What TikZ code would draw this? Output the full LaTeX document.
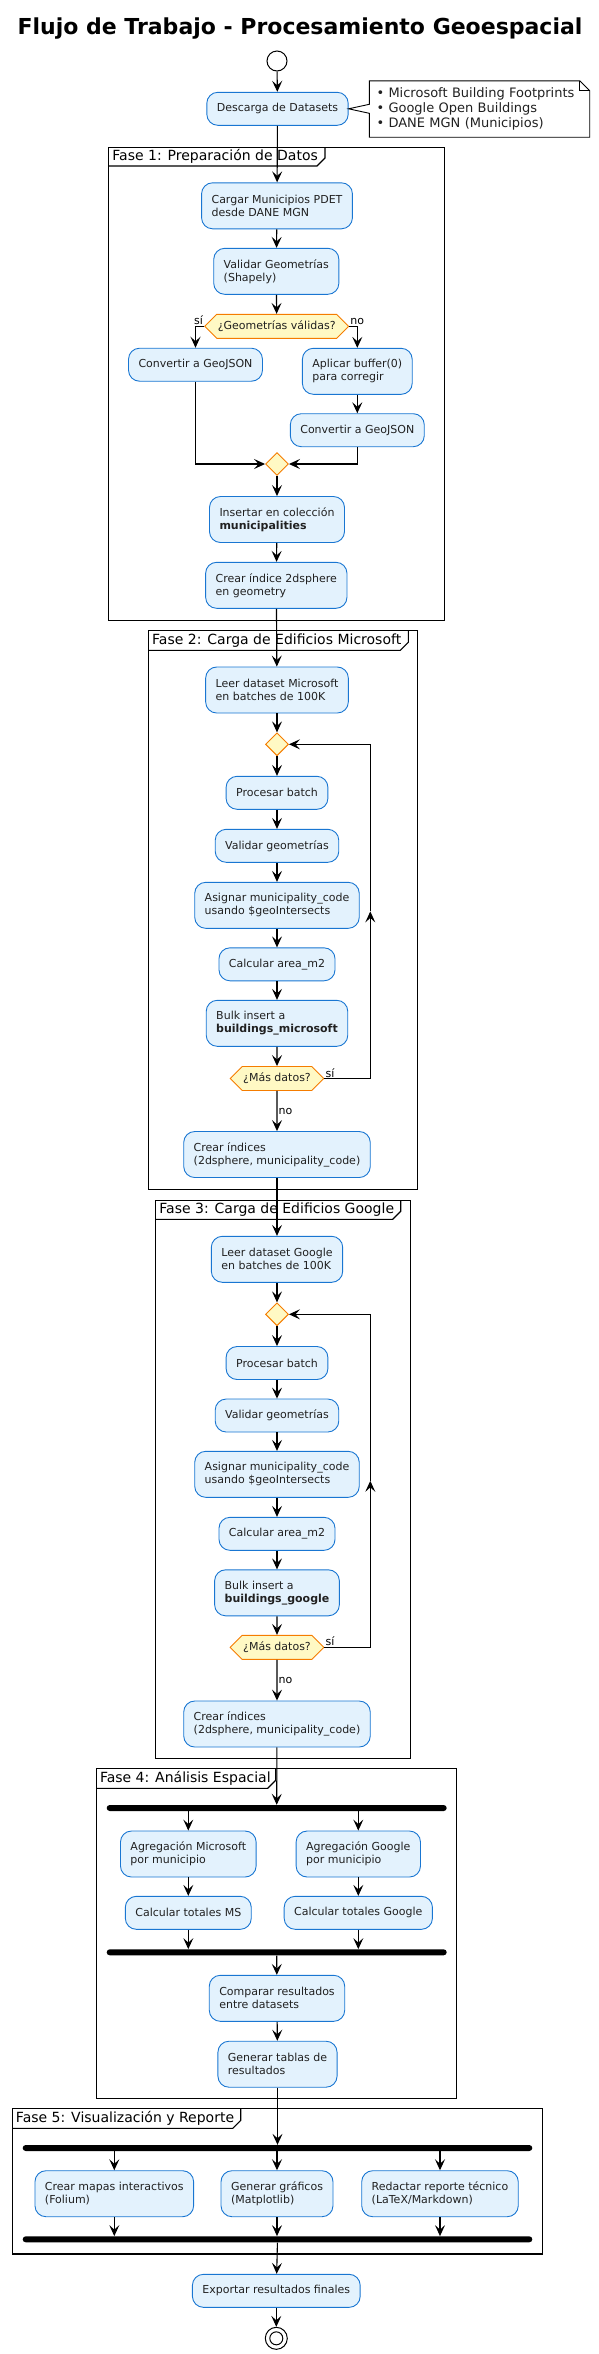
\documentclass[tikz,border=0pt]{standalone}
\usepackage{fontspec}
\setmainfont{DejaVu Sans}
\usetikzlibrary{arrows.meta,shapes.geometric,shapes.symbols}
\definecolor{actfill}{HTML}{E3F2FD}
\definecolor{actline}{HTML}{1976D2}
\definecolor{decfill}{HTML}{FFF9C4}
\definecolor{decline}{HTML}{F57C00}
\definecolor{txt}{HTML}{212121}
\begin{document}
\begin{tikzpicture}[x=1pt,y=-1pt,
  act/.style={rectangle, rounded corners=11pt, draw=actline, fill=actfill, line width=0.9pt, text=txt,
    font=\fontsize{11}{13}\selectfont, align=left, inner xsep=10pt, inner ysep=2pt, minimum height=33pt},
  twoline/.style={minimum height=46pt},
  junction/.style={diamond, aspect=1, draw=decline, fill=decfill, line width=0.9pt, minimum size=23pt, inner sep=0pt},
  hexa/.style={signal, signal to=west and east, signal pointer angle=90, draw=decline, fill=decfill,
    line width=0.9pt, text=txt, font=\fontsize{11}{13}\selectfont, minimum height=24pt, inner xsep=1pt, inner ysep=0pt},
  bar/.style={rectangle, fill=black, rounded corners=3pt, minimum height=6pt, inner sep=0pt},
  flow/.style={-{Stealth[length=11pt,width=10pt,inset=4.5pt]}, line width=1.1pt},
  framebox/.style={line width=1.1pt},
  frametitle/.style={anchor=west, inner sep=0pt, font=\fontsize{14}{16}\selectfont},
  lbl/.style={font=\fontsize{11}{13}\selectfont, inner sep=1pt}
]
\useasboundingbox (0,0) rectangle (599,2354);

\node[font=\fontsize{22}{26}\selectfont\bfseries] (title) at (300,28.5) {Flujo de Trabajo - Procesamiento Geoespacial};

\draw[framebox] (108.7,147.5) rectangle (444.3,620.3);
\draw[framebox] (108.7,166) -- (317,166) -- (325,158) -- (325,147.5);
\node[frametitle] (f1title) at (112.2,156.8) {Fase 1: Preparación de Datos};
\draw[framebox] (148.5,630.7) rectangle (417.3,1189.3);
\draw[framebox] (148.5,650.3) -- (400.3,650.3) -- (408.3,642.3) -- (408.3,630.7);
\node[frametitle] (f2title) at (152,640.5) {Fase 2: Carga de Edificios Microsoft};
\draw[framebox] (155.7,1200.7) rectangle (410.7,1758.3);
\draw[framebox] (155.7,1219.3) -- (392.7,1219.3) -- (400.7,1211.3) -- (400.7,1200.7);
\node[frametitle] (f3title) at (159.2,1210) {Fase 3: Carga de Edificios Google};
\draw[framebox] (96.3,1768.7) rectangle (456.3,2098.3);
\draw[framebox] (96.3,1788.3) -- (267.7,1788.3) -- (275.7,1780.3) -- (275.7,1768.7);
\node[frametitle] (f4title) at (99.8,1778.5) {Fase 4: Análisis Espacial};
\draw[framebox] (12.3,2108.7) rectangle (542.3,2254);
\draw[framebox] (12.3,2128.3) -- (232.7,2128.3) -- (240.7,2120.3) -- (240.7,2108.7);
\node[frametitle] (f5title) at (15.8,2118.5) {Fase 5: Visualización y Reporte};

\node[circle, draw, fill=white, line width=1pt, minimum size=20pt, inner sep=0pt] (start) at (277,61) {};
\node[act] (dl) at (277.5,108.8) {Descarga de Datasets};
\node[text=txt, font=\fontsize{13}{15}\selectfont, align=left, text width=206pt, inner xsep=7pt, minimum height=56pt] (note) at (479.5,109)
  {• Microsoft Building Footprints\\• Google Open Buildings\\• DANE MGN (Municipios)};
\draw[line width=0.9pt] (note.north west) -- ([xshift=-10pt]note.north east) -- ([yshift=-10pt]note.north east)
  -- (note.south east) -- (note.south west) -- ([yshift=-4.3pt]note.west) -- (dl.east) -- ([yshift=4.7pt]note.west) -- cycle;
\draw[line width=0.9pt] ([xshift=-10pt]note.north east) |- ([yshift=-10pt]note.north east);

\node[act, twoline] (cargar) at (277,205.8) {Cargar Municipios PDET\\desde DANE MGN};
\node[act, twoline] (valgeo) at (276.3,271.3) {Validar Geometrías\\(Shapely)};
\node[hexa] (q1) at (276.7,326.3) {¿Geometrías válidas?};
\node[act] (conv1) at (195.5,364.7) {Convertir a GeoJSON};
\node[act, twoline] (buf) at (357.3,371.3) {Aplicar buffer(0)\\para corregir};
\node[act] (conv2) at (357.3,430.2) {Convertir a GeoJSON};
\node[junction] (merge1) at (277,464) {};
\node[act, twoline] (insert) at (277,519.5) {Insertar en colección\\\textbf{municipalities}};
\node[act, twoline] (idx1) at (276.3,585.3) {Crear índice 2dsphere\\en geometry};
\node[lbl, anchor=south east] (si1) at (q1.west) {sí};
\node[lbl, anchor=south west] (no1) at (q1.east) {no};

\node[act, twoline] (readms) at (277,690) {Leer dataset Microsoft\\en batches de 100K};
\node[junction] (loop1) at (277,744.3) {};
\node[act] (proc1) at (277,792.8) {Procesar batch};
\node[act] (val1) at (277,845.8) {Validar geometrías};
\node[act, twoline] (asig1) at (277,905.3) {Asignar municipality\_code\\usando \$geoIntersects};
\node[act] (area1) at (277,964.3) {Calcular area\_m2};
\node[act, twoline] (bulk1) at (277,1023.3) {Bulk insert a\\\textbf{buildings\_microsoft}};
\node[hexa] (more1) at (277,1078.5) {¿Más datos?};
\node[act, twoline] (idx2) at (277,1154.5) {Crear índices\\(2dsphere, municipality\_code)};
\node[lbl, anchor=south west] (si2) at (more1.east) {sí};
\coordinate (back1) at (370.3,911.4);

\node[act, twoline] (readg) at (277,1259.3) {Leer dataset Google\\en batches de 100K};
\node[junction] (loop2) at (277,1314.3) {};
\node[act] (proc2) at (277,1363) {Procesar batch};
\node[act] (val2) at (277,1415.5) {Validar geometrías};
\node[act, twoline] (asig2) at (277,1474.3) {Asignar municipality\_code\\usando \$geoIntersects};
\node[act] (area2) at (277,1533.8) {Calcular area\_m2};
\node[act, twoline] (bulk2) at (277,1592.8) {Bulk insert a\\\textbf{buildings\_google}};
\node[hexa] (more2) at (277,1647.3) {¿Más datos?};
\node[act, twoline] (idx3) at (277,1724) {Crear índices\\(2dsphere, municipality\_code)};
\node[lbl, anchor=south west] (si3) at (more2.east) {sí};
\coordinate (back2) at (370.3,1480.8);

\node[bar, minimum width=340pt] (fork1) at (276.7,1808) {};
\node[act, twoline] (aggms) at (188.3,1854) {Agregación Microsoft\\por municipio};
\node[act, twoline] (aggg) at (358.3,1854) {Agregación Google\\por municipio};
\node[act] (totms) at (188.3,1912.8) {Calcular totales MS};
\node[act] (totg) at (358.3,1912.8) {Calcular totales Google};
\node[bar, minimum width=340pt] (join1) at (276.7,1952.3) {};
\node[act, twoline] (comp) at (277,1998.3) {Comparar resultados\\entre datasets};
\node[act, twoline] (tabl) at (277.5,2064.2) {Generar tablas de\\resultados};

\node[bar, minimum width=509.6pt] (fork2) at (277.5,2148) {};
\node[act, twoline] (maps) at (114.3,2193.7) {Crear mapas interactivos\\(Folium)};
\node[act, twoline] (graf) at (277,2193.7) {Generar gráficos\\(Matplotlib)};
\node[act, twoline] (rep) at (440,2193.7) {Redactar reporte técnico\\(LaTeX/Markdown)};
\node[bar, minimum width=509.6pt] (join2) at (277.5,2239.3) {};
\node[act] (exp) at (276.3,2290.8) {Exportar resultados finales};
\node[circle, draw, fill=white, line width=1pt, minimum size=22pt, inner sep=0pt] (endc) at (276.3,2338.3) {};
\draw[line width=1pt] (endc.center) circle (6.5pt);

\draw[flow] (start) -- (dl);
\draw[flow] (dl) -- (cargar);
\draw[flow] (cargar) -- (valgeo);
\draw[flow] (valgeo) -- (q1);
\draw[flow] (q1.west) -| (conv1);
\draw[flow] (q1.east) -| (buf);
\draw[flow] (buf) -- (conv2);
\draw[flow] (conv1) |- (merge1);
\draw[flow] (conv2) |- (merge1);
\draw[flow] (merge1) -- (insert);
\draw[flow] (insert) -- (idx1);
\draw[flow] (idx1) -- (readms);

\draw[flow] (readms) -- (loop1);
\draw[flow] (loop1) -- (proc1);
\draw[flow] (proc1) -- (val1);
\draw[flow] (val1) -- (asig1);
\draw[flow] (asig1) -- (area1);
\draw[flow] (area1) -- (bulk1);
\draw[flow] (bulk1) -- (more1);
\draw[flow] (more1.east) -| (back1);
\draw[flow] (back1) |- (loop1);
\draw[flow] (more1) -- node[lbl, right] (no2) {no} (idx2);
\draw[flow] (idx2) -- (readg);

\draw[flow] (readg) -- (loop2);
\draw[flow] (loop2) -- (proc2);
\draw[flow] (proc2) -- (val2);
\draw[flow] (val2) -- (asig2);
\draw[flow] (asig2) -- (area2);
\draw[flow] (area2) -- (bulk2);
\draw[flow] (bulk2) -- (more2);
\draw[flow] (more2.east) -| (back2);
\draw[flow] (back2) |- (loop2);
\draw[flow] (more2) -- node[lbl, right] (no3) {no} (idx3);
\draw[flow] (idx3) -- (fork1);

\draw[flow] (fork1.south -| aggms) -- (aggms);
\draw[flow] (fork1.south -| aggg) -- (aggg);
\draw[flow] (aggms) -- (totms);
\draw[flow] (aggg) -- (totg);
\draw[flow] (totms) -- (totms |- join1.north);
\draw[flow] (totg) -- (totg |- join1.north);
\draw[flow] (join1) -- (comp);
\draw[flow] (comp) -- (tabl);
\draw[flow] (tabl) -- (fork2);

\draw[flow] (fork2.south -| maps) -- (maps);
\draw[flow] (fork2.south -| graf) -- (graf);
\draw[flow] (fork2.south -| rep) -- (rep);
\draw[flow] (maps) -- (maps |- join2.north);
\draw[flow] (graf) -- (graf |- join2.north);
\draw[flow] (rep) -- (rep |- join2.north);
\draw[flow] (join2) -- (exp);
\draw[flow] (exp) -- (endc);
\end{tikzpicture}
\end{document}
